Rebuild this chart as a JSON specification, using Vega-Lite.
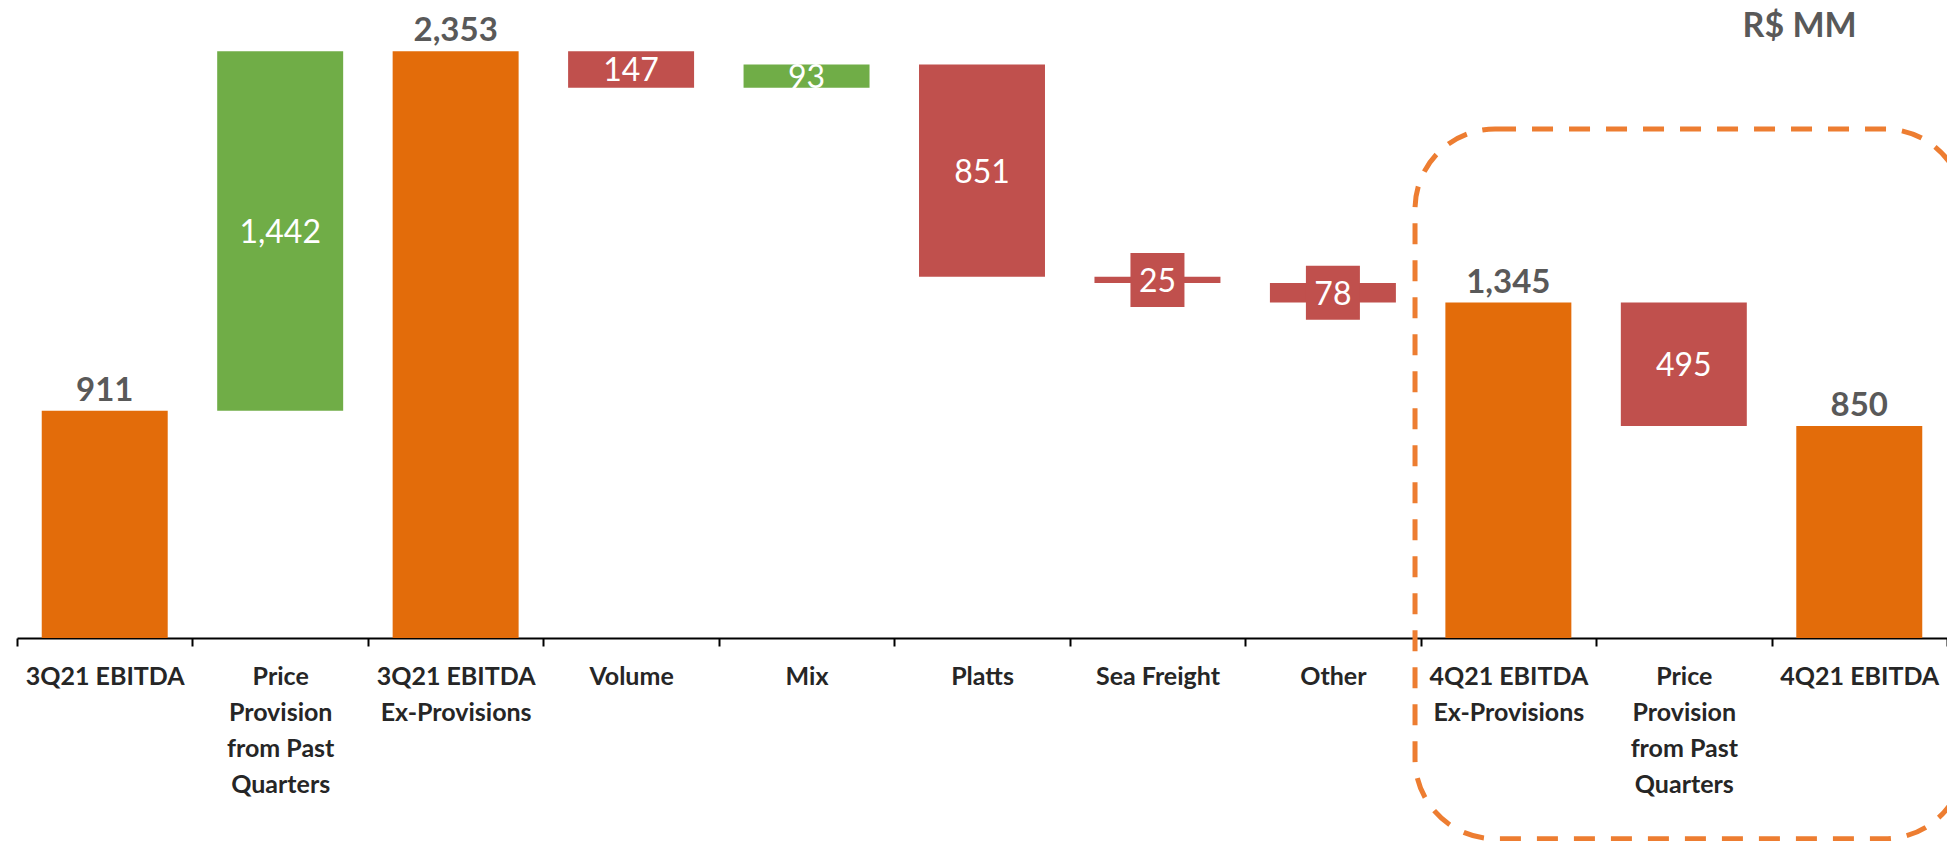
{
  "$schema": "https://vega.github.io/schema/vega-lite/v6.json",
  "width": 1930,
  "height": 638,
  "autosize": {"type": "none"},
  "padding": {"left": 17, "top": 0, "right": 0, "bottom": 203},
  "background": "white",
  "config": {"view": {"stroke": null}, "font": "Lato"},
  "datasets": {
    "steps": [
      {"cat": "3Q21 EBITDA", "start": 0, "end": 911, "kind": "total", "label": "911"},
      {"cat": "Price|Provision|from Past|Quarters", "start": 911, "end": 2353, "kind": "up", "label": "1,442"},
      {"cat": "3Q21 EBITDA|Ex-Provisions", "start": 0, "end": 2353, "kind": "total", "label": "2,353"},
      {"cat": "Volume", "start": 2353, "end": 2206, "kind": "down", "label": "147"},
      {"cat": "Mix", "start": 2206, "end": 2299, "kind": "up", "label": "93"},
      {"cat": "Platts", "start": 2299, "end": 1448, "kind": "down", "label": "851"},
      {"cat": "Sea Freight", "start": 1448, "end": 1423, "kind": "down", "label": "25"},
      {"cat": "Other", "start": 1423, "end": 1345, "kind": "down", "label": "78"},
      {"cat": "4Q21 EBITDA|Ex-Provisions", "start": 0, "end": 1345, "kind": "total", "label": "1,345"},
      {"cat": "Price|Provision|from Past|Quarters ", "start": 1345, "end": 850, "kind": "down", "label": "495"},
      {"cat": "4Q21 EBITDA", "start": 0, "end": 850, "kind": "total", "label": "850"}
    ]
  },
  "layer": [
    {
      "data": {"name": "steps"},
      "transform": [{"calculate": "(datum.start + datum.end) / 2", "as": "mid"}],
      "encoding": {
        "x": {
          "field": "cat",
          "type": "nominal",
          "sort": null,
          "scale": {"paddingInner": 0, "paddingOuter": 0},
          "axis": {
            "title": null,
            "labelAngle": 0,
            "labelFont": "Lato",
            "labelFontWeight": "bold",
            "labelFontSize": 25,
            "labelColor": "#262626",
            "labelExpr": "split(datum.label, '|')",
            "labelLineHeight": 36,
            "labelBaseline": "top",
            "labelPadding": 18,
            "labelLimit": 400,
            "tickBand": "extent",
            "tickSize": 8,
            "tickColor": "#000000",
            "tickWidth": 2,
            "domainColor": "#000000",
            "domainWidth": 2
          }
        }
      },
      "layer": [
        {
          "mark": {"type": "bar", "width": {"band": 0.718}},
          "encoding": {
            "y": {"field": "start", "type": "quantitative", "scale": {"domain": [0, 2558], "nice": false, "zero": false}, "axis": null},
            "y2": {"field": "end"},
            "color": {
              "field": "kind",
              "type": "nominal",
              "scale": {"domain": ["total", "up", "down"], "range": ["#E36C0A", "#70AD47", "#C0504D"]},
              "legend": null
            }
          }
        },
        {
          "transform": [{"filter": "datum.kind == 'total'"}],
          "mark": {"type": "text", "font": "Lato", "fontWeight": "bold", "fontSize": 33, "color": "#595959", "baseline": "alphabetic", "dy": -10},
          "encoding": {
            "y": {"field": "end", "type": "quantitative"},
            "text": {"field": "label"}
          }
        },
        {
          "transform": [{"filter": "datum.kind == 'down' && datum.start - datum.end < 100"}],
          "mark": {"type": "point", "shape": "square", "filled": true, "size": 2916, "color": "#C0504D", "opacity": 1},
          "encoding": {
            "y": {"field": "mid", "type": "quantitative"}
          }
        },
        {
          "transform": [{"filter": "datum.kind != 'total'"}],
          "mark": {"type": "text", "font": "Lato", "fontSize": 32, "color": "#FFFFFF", "baseline": "middle", "dy": 2},
          "encoding": {
            "y": {"field": "mid", "type": "quantitative"},
            "text": {"field": "label"}
          }
        }
      ]
    },
    {
      "data": {"values": [{}]},
      "layer": [
        {
          "mark": {"type": "rect", "filled": false, "stroke": "#ED7D31", "strokeWidth": 5, "strokeDash": [21, 16], "cornerRadius": 80},
          "encoding": {
            "x": {"datum": 7.968, "type": "quantitative", "scale": {"domain": [0, 11], "nice": false, "zero": false}, "axis": null},
            "x2": {"datum": 11.1},
            "y": {"datum": 2041, "type": "quantitative", "scale": {"domain": [0, 2558], "nice": false, "zero": false}, "axis": null},
            "y2": {"datum": -805}
          }
        },
        {
          "mark": {"type": "text", "text": "R$ MM", "font": "Lato", "fontWeight": "bold", "fontSize": 34, "color": "#595959", "baseline": "alphabetic"},
          "encoding": {
            "x": {"datum": 10.16, "type": "quantitative"},
            "y": {"datum": 2410, "type": "quantitative"}
          }
        }
      ]
    }
  ],
  "resolve": {"scale": {"x": "independent", "y": "independent"}, "axis": {"x": "independent", "y": "independent"}}
}
